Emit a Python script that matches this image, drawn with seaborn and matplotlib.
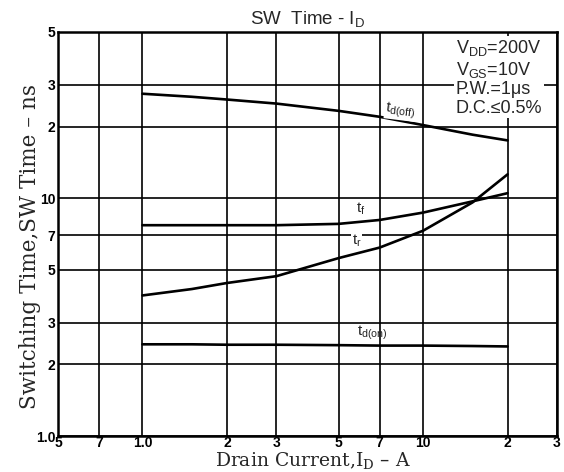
import matplotlib
matplotlib.use('Agg')
import matplotlib.pyplot as plt
from matplotlib.ticker import FixedLocator, NullLocator, FixedFormatter
import seaborn as sns
import pandas as pd

# drain current (A)
corriente = [1.0, 1.5, 2.0, 3.0, 5.0, 7.0, 10.0, 15.0, 20.0]

# switching times (ns)
td_off = [27.5, 26.7, 26.0, 25.0, 23.3, 22.0, 20.3, 18.5, 17.5]
tf = [7.7, 7.7, 7.7, 7.7, 7.8, 8.1, 8.7, 9.7, 10.5]
tr = [3.9, 4.15, 4.4, 4.7, 5.6, 6.2, 7.3, 9.6, 12.6]
td_on = [2.43, 2.43, 2.42, 2.42, 2.41, 2.40, 2.40, 2.39, 2.38]

x_ticks = [0.5, 0.7, 1.0, 2, 3, 5, 7, 10, 20, 30]
x_tick_labels = ['5', '7', '1.0', '2', '3', '5', '7', '10', '2', '3']
y_ticks = [1, 2, 3, 5, 7, 10, 20, 30, 50]
y_tick_labels = ['1.0', '2', '3', '5', '7', '10', '2', '3', '5']

condiciones = 'V$_\\mathregular{DD}$=200V\nV$_\\mathregular{GS}$=10V\nP.W.=1\u03bcs\nD.C.\u22640.5%'

sns.set_theme(style='white')
plt.rcParams['font.family'] = ['Liberation Sans', 'DejaVu Sans']

tabla = pd.concat([
    pd.DataFrame({'ID': corriente, 't': td_off, 'curva': 'td_off'}),
    pd.DataFrame({'ID': corriente, 't': tf, 'curva': 'tf'}),
    pd.DataFrame({'ID': corriente, 't': tr, 'curva': 'tr'}),
    pd.DataFrame({'ID': corriente, 't': td_on, 'curva': 'td_on'}),
])

fig = plt.figure(figsize=(5.64, 4.72), dpi=100)
ax = fig.add_axes([58 / 564, 1 - 436 / 472, 499 / 564, 404 / 472])

sns.lineplot(data=tabla, x='ID', y='t', hue='curva', palette=['black'] * 4,
             legend=False, linewidth=1.9, ax=ax, zorder=3)

ax.set_xscale('log')
ax.set_yscale('log')
ax.set_xlim(0.5, 30)
ax.set_ylim(1, 50)
ax.xaxis.set_major_locator(FixedLocator(x_ticks))
ax.xaxis.set_major_formatter(FixedFormatter(x_tick_labels))
ax.yaxis.set_major_locator(FixedLocator(y_ticks))
ax.yaxis.set_major_formatter(FixedFormatter(y_tick_labels))
ax.xaxis.set_minor_locator(NullLocator())
ax.yaxis.set_minor_locator(NullLocator())
ax.tick_params(axis='both', length=0, labelsize=10, colors='black')
ax.tick_params(axis='x', pad=0)
ax.tick_params(axis='y', pad=2)
for lbl in ax.get_xticklabels() + ax.get_yticklabels():
    lbl.set_fontweight('bold')

ax.grid(True, which='major', color='black', linewidth=1.2)
for s in ax.spines.values():
    s.set_color('black')
    s.set_linewidth(1.8)

# etiquetas de las curvas
caja = dict(facecolor='white', edgecolor='none', pad=0.3)
ax.text(8.3, 23.4, 't$_\\mathregular{d(off)}$', fontsize=11, rotation=-7,
        ha='center', va='center', zorder=4, bbox=caja)
ax.text(6.0, 9.0, 't$_\\mathregular{f}$', fontsize=11, ha='center', va='center', zorder=4)
ax.text(5.8, 6.6, 't$_\\mathregular{r}$', fontsize=11, ha='center', va='center', zorder=4,
        bbox=caja)
ax.text(6.6, 2.72, 't$_\\mathregular{d(on)}$', fontsize=11, ha='center', va='center', zorder=4)

ax.text(0.797, 0.985, condiciones, transform=ax.transAxes, ha='left', va='top',
        fontsize=13, linespacing=1.12, zorder=5,
        bbox=dict(facecolor='white', edgecolor='none', pad=1.0))

ax.set_title('SW  Time - I$_\\mathregular{D}$', fontsize=13.5, pad=5)
ax.set_xlabel('Drain Current,I$_\\mathregular{D}$ \u2013 A', fontfamily='DejaVu Serif',
              fontsize=13.5)
ax.set_ylabel('Switching Time,SW Time \u2013 ns', fontfamily='DejaVu Serif',
              fontsize=15.5)
ax.xaxis.set_label_coords(0.51, -0.036)
ax.yaxis.set_label_coords(-0.035, 0.47)

fig.savefig('out.png', dpi=100)
